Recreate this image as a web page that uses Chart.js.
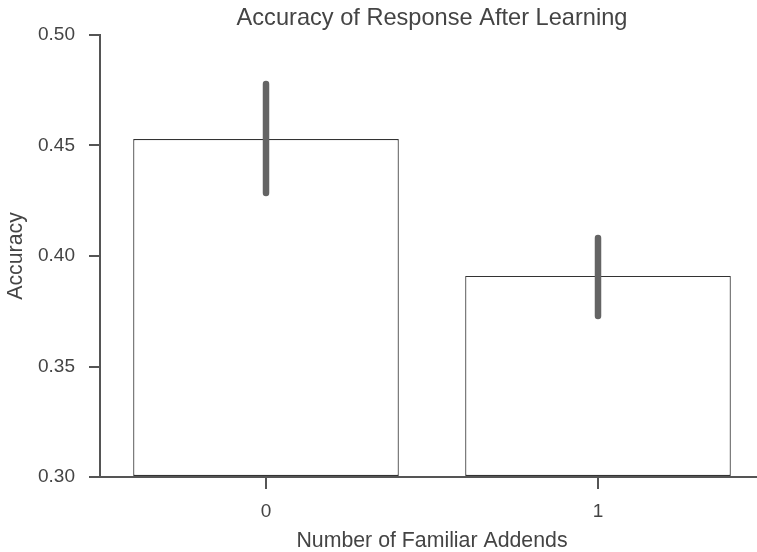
<!DOCTYPE html>
<html>
<head>
<meta charset="utf-8">
<script src="https://cdn.jsdelivr.net/npm/chart.js@4"></script>
<style>
  html, body { margin: 0; padding: 0; overflow: hidden; background: #fff; }
  #wrap { width: 764px; height: 552px; }
</style>
</head>
<body>
<div id="wrap"><canvas id="barChart"></canvas></div>
<script>
// values
const categories = ['0', '1'];
const accuracy = [0.4529, 0.3910];
const ciLow = [0.4285, 0.3729];
const ciHigh = [0.4778, 0.4081];
const yTicks = [0.30, 0.35, 0.40, 0.45, 0.50];

const textColor = '#444';
const axisColor = '#555';
const fontFamily = '"Liberation Sans", Arial, sans-serif';

// draws the confidence interval lines on top of each bar
const errorBars = {
  id: 'errorBars',
  afterDatasetsDraw(chart) {
    const ctx = chart.ctx;
    const yScale = chart.scales.y;
    const meta = chart.getDatasetMeta(0);
    ctx.save();
    ctx.strokeStyle = '#646464';
    ctx.lineWidth = 6.5;
    ctx.lineCap = 'round';
    meta.data.forEach((bar, i) => {
      ctx.beginPath();
      ctx.moveTo(bar.x, yScale.getPixelForValue(ciLow[i]));
      ctx.lineTo(bar.x, yScale.getPixelForValue(ciHigh[i]));
      ctx.stroke();
    });
    ctx.restore();
  }
};

var ctx = document.getElementById('barChart').getContext('2d');
new Chart(ctx, {
  type: 'bar',
  data: {
    labels: categories,
    datasets: [{
      data: accuracy,
      base: 0.30,
      backgroundColor: '#ffffff',
      borderColor: '#333',
      borderWidth: 1.2,
      borderSkipped: false,
      barPercentage: 0.8,
      categoryPercentage: 1.0
    }]
  },
  options: {
    responsive: true,
    maintainAspectRatio: false,
    animation: false,
    layout: { padding: 0 },
    plugins: {
      legend: { display: false },
      tooltip: { enabled: false },
      title: {
        display: true,
        text: 'Accuracy of Response After Learning',
        fullSize: false,
        color: textColor,
        font: { family: fontFamily, size: 23.6, weight: 'normal', lineHeight: 1.0 },
        padding: { top: 6.5, bottom: 4.9 }
      }
    },
    scales: {
      x: {
        offset: true,
        afterFit: s => { s.height = 75; },
        border: { color: axisColor, width: 2 },
        grid: { offset: false, drawOnChartArea: false, drawTicks: true, tickLength: 12, color: axisColor, lineWidth: 2 },
        ticks: { color: textColor, font: { family: fontFamily, size: 19 }, padding: 11 },
        title: {
          display: true,
          text: 'Number of Familiar Addends',
          color: textColor,
          font: { family: fontFamily, size: 21.3, lineHeight: 1.0 },
          padding: 0
        }
      },
      y: {
        min: 0.30,
        max: 0.50,
        afterFit: s => { s.width = 100; },
        afterBuildTicks: s => { s.ticks = yTicks.map(v => ({ value: v })); },
        border: { color: axisColor, width: 2 },
        grid: { drawOnChartArea: false, drawTicks: true, tickLength: 11, color: axisColor, lineWidth: 2 },
        ticks: {
          color: textColor,
          font: { family: fontFamily, size: 19 },
          padding: 14,
          callback: v => Number(v).toFixed(2)
        },
        title: {
          display: true,
          text: 'Accuracy',
          color: textColor,
          font: { family: fontFamily, size: 21.3, lineHeight: 1.0 },
          padding: { top: 5, bottom: 0 }
        }
      }
    }
  },
  plugins: [errorBars]
});
</script>
</body>
</html>
